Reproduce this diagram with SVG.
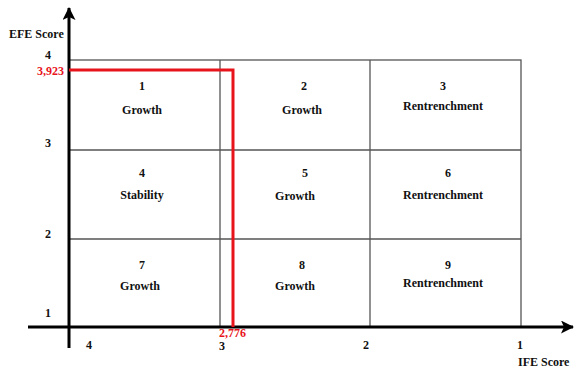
<svg xmlns="http://www.w3.org/2000/svg" width="575" height="369" viewBox="0 0 575 369">
<style>
text{font-family:"Liberation Serif","Times New Roman",serif;font-weight:bold;font-size:12px;fill:#111}
.c{text-anchor:middle}
.r{fill:#e8141b}
.g{stroke:#555;stroke-width:1.3;fill:none}
.ax{stroke:#000;stroke-width:3;fill:none}
</style>
<defs>
<marker id="ah" markerWidth="13" markerHeight="13" refX="12" refY="6.5" orient="auto" markerUnits="userSpaceOnUse" viewBox="0 0 13 13">
<path d="M0,0 L13,6.5 L0,13 L3,6.5 Z" fill="#000"/>
</marker>
</defs>
<rect width="575" height="369" fill="#fff"/>
<g id="grid">
<rect class="g" x="69" y="60" width="452" height="267"/>
<line class="g" x1="220" y1="60" x2="220" y2="327"/>
<line class="g" x1="370" y1="60" x2="370" y2="327"/>
<line class="g" x1="69" y1="150" x2="521" y2="150"/>
<line class="g" x1="69" y1="239" x2="521" y2="239"/>
</g>
<g id="cell1"><text class="c" x="142" y="90">1</text><text class="c" x="142" y="114">Growth</text></g>
<g id="cell2"><text class="c" x="304" y="90">2</text><text class="c" x="302" y="114">Growth</text></g>
<g id="cell3"><text class="c" x="443" y="90">3</text><text class="c" x="443" y="110">Rentrenchment</text></g>
<g id="cell4"><text class="c" x="142" y="177">4</text><text class="c" x="142" y="199">Stability</text></g>
<g id="cell5"><text class="c" x="305" y="177">5</text><text class="c" x="295" y="200">Growth</text></g>
<g id="cell6"><text class="c" x="448" y="177">6</text><text class="c" x="443" y="199">Rentrenchment</text></g>
<g id="cell7"><text class="c" x="142" y="269">7</text><text class="c" x="140" y="290">Growth</text></g>
<g id="cell8"><text class="c" x="302" y="269">8</text><text class="c" x="295" y="290">Growth</text></g>
<g id="cell9"><text class="c" x="448" y="269">9</text><text class="c" x="443" y="287">Rentrenchment</text></g>
<g id="connectors">
<line class="ax" x1="69" y1="348" x2="69" y2="8" marker-end="url(#ah)"/>
<line class="ax" x1="28" y1="327" x2="573" y2="327" marker-end="url(#ah)"/>
<polyline points="69,70 233,70 233,327" fill="none" stroke="#e8141b" stroke-width="3"/>
</g>
<g id="labels">
<text x="9" y="38">EFE Score</text>
<text x="45" y="59">4</text>
<text class="r" x="37" y="75">3,923</text>
<text x="45" y="147">3</text>
<text x="45" y="238">2</text>
<text x="45" y="317">1</text>
<text x="86" y="349">4</text>
<text x="219" y="350">3</text>
<text class="r" x="219" y="337">2,776</text>
<text x="363" y="349">2</text>
<text x="517" y="349">1</text>
<text x="518" y="366">IFE Score</text>
</g>
</svg>
